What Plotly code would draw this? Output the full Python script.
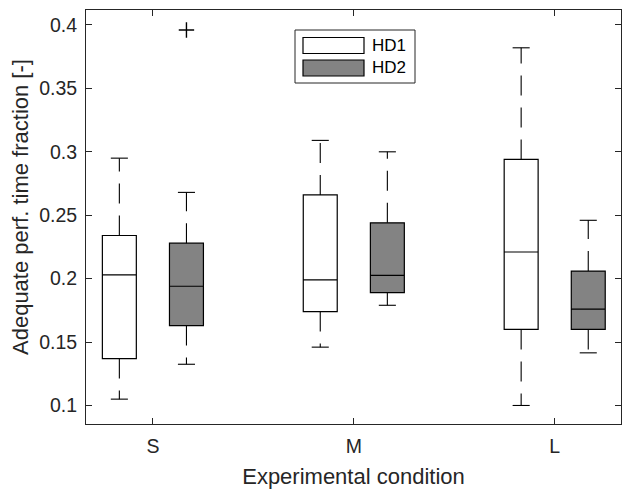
import plotly.graph_objects as go

# ---- data ----
conditions = ["S", "M", "L"]
hd1_upper = [0.295, 0.309, 0.382]
hd1_q3 = [0.234, 0.266, 0.294]
hd1_median = [0.203, 0.199, 0.221]
hd1_q1 = [0.137, 0.174, 0.160]
hd1_lower = [0.105, 0.146, 0.100]

hd2_upper = [0.268, 0.300, 0.246]
hd2_q3 = [0.228, 0.244, 0.206]
hd2_median = [0.194, 0.2025, 0.176]
hd2_q1 = [0.163, 0.189, 0.160]
hd2_lower = [0.1325, 0.179, 0.1415]

hd2_outlier_cond = ["S"]
hd2_outlier_val = [0.396]

series_names = ["HD1", "HD2"]
yticks = [0.1, 0.15, 0.2, 0.25, 0.3, 0.35, 0.4]
ytick_text = ["0.1", "0.15", "0.2", "0.25", "0.3", "0.35", "0.4"]

# ---- style ----
W, H = 622, 491
ML, MR, MT, MB = 86, 1, 10, 67
FONT = "Liberation Sans, Arial, Helvetica, sans-serif"
AX = "#262626"
FILLS = ["#ffffff", "#838383"]
OFFSET = 0.167
BOXW = 0.169
CAPW = 0.085

cat_pos = {c: i + 1 for i, c in enumerate(conditions)}

fig = go.Figure()

groups = [
    (hd1_lower, hd1_q1, hd1_median, hd1_q3, hd1_upper),
    (hd2_lower, hd2_q1, hd2_median, hd2_q3, hd2_upper),
]
offsets = [-OFFSET, OFFSET]

for g, (lo, q1, med, q3, up) in enumerate(groups):
    xs = [cat_pos[c] + offsets[g] for c in conditions]
    wx, wy = [], []
    cx, cy = [], []
    for i, x in enumerate(xs):
        wx += [x, x, None, x, x, None]
        wy += [q3[i], up[i], None, q1[i], lo[i], None]
        cx += [x - CAPW / 2, x + CAPW / 2, None, x - CAPW / 2, x + CAPW / 2, None]
        cy += [up[i], up[i], None, lo[i], lo[i], None]
    fig.add_trace(go.Scatter(x=wx, y=wy, mode="lines", showlegend=False,
                             line=dict(color="black", width=1.1, dash="20px,12px"),
                             hoverinfo="skip"))
    fig.add_trace(go.Scatter(x=cx, y=cy, mode="lines", showlegend=False,
                             line=dict(color="black", width=1.1), hoverinfo="skip"))
    fig.add_trace(go.Box(
        name=series_names[g], x=xs, q1=q1, median=med, q3=q3,
        lowerfence=q1, upperfence=q3, width=BOXW,
        fillcolor=FILLS[g], line=dict(color="black", width=1.2),
        whiskerwidth=0, showlegend=False, boxpoints=False,
    ))

# outlier
fig.add_trace(go.Scatter(
    x=[cat_pos[c] + OFFSET for c in hd2_outlier_cond], y=hd2_outlier_val,
    mode="markers", showlegend=False,
    marker=dict(symbol="cross-thin", size=11, line=dict(color="black", width=1.4)),
))

# ---- manual legend (MATLAB style) ----
pw, ph = W - ML - MR, H - MT - MB


def px(x):
    return (x - ML) / pw


def py(y):
    return (H - MB - y) / ph


shapes = [dict(type="rect", xref="paper", yref="paper",
               x0=px(295), x1=px(415), y0=py(83), y1=py(30),
               line=dict(color=AX, width=1), fillcolor="white", layer="above")]
annos = []
for k, (y0, y1) in enumerate([(37.5, 53.5), (60, 76)]):
    shapes.append(dict(type="rect", xref="paper", yref="paper",
                       x0=px(303), x1=px(364), y0=py(y1), y1=py(y0),
                       line=dict(color="black", width=1.2), fillcolor=FILLS[k], layer="above"))
    annos.append(dict(xref="paper", yref="paper", x=px(370), y=py((y0 + y1) / 2),
                      text=series_names[k], showarrow=False, xanchor="left", yanchor="middle",
                      font=dict(family=FONT, size=17, color="black")))

# y-axis title (MATLAB places it slightly above the axis centre)
annos.append(dict(xref="paper", yref="paper", x=px(20), y=py(207),
                  text="Adequate perf. time fraction [-]", textangle=-90, showarrow=False,
                  xanchor="center", yanchor="middle",
                  font=dict(family=FONT, size=22, color=AX)))

fig.update_layout(
    width=W, height=H,
    margin=dict(l=ML, r=MR, t=MT, b=MB),
    paper_bgcolor="white", plot_bgcolor="white",
    boxmode="overlay",
    font=dict(family=FONT, color=AX),
    shapes=shapes, annotations=annos,
    xaxis=dict(
        range=[0.667, 3.33], tickmode="array",
        tickvals=[cat_pos[c] for c in conditions], ticktext=conditions,
        showline=True, linecolor=AX, linewidth=1, mirror="ticks",
        ticks="inside", ticklen=6, tickcolor=AX, showgrid=False, zeroline=False,
        tickfont=dict(size=19.5, color=AX), ticklabelstandoff=5,
        title=dict(text="Experimental condition", font=dict(size=22, color=AX), standoff=12),
    ),
    yaxis=dict(
        range=[0.0854, 0.4118], tickmode="array", tickvals=yticks, ticktext=ytick_text,
        showline=True, linecolor=AX, linewidth=1, mirror="ticks",
        ticks="inside", ticklen=6, tickcolor=AX, showgrid=False, zeroline=False,
        tickfont=dict(size=19.5, color=AX), ticklabelstandoff=4,
    ),
)

fig.write_html("out.html")
